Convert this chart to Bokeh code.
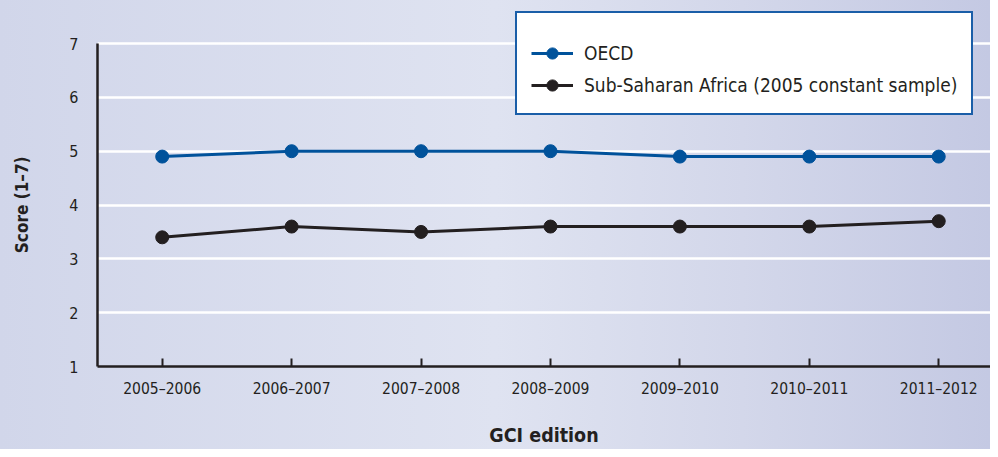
from bokeh.plotting import figure
from bokeh.models import Range1d, FixedTicker, Legend, LegendItem
from bokeh.embed import file_html
from bokeh.resources import INLINE

editions = ["2005–2006", "2006–2007", "2007–2008", "2008–2009", "2009–2010", "2010–2011", "2011–2012"]
oecd = [4.9, 5.0, 5.0, 5.0, 4.9, 4.9, 4.9]
ssa = [3.4, 3.6, 3.5, 3.6, 3.6, 3.6, 3.7]
y_ticks = [1, 2, 3, 4, 5, 6, 7]

FONT = "Liberation Sans Narrow, DejaVu Sans Condensed, Arial Narrow, sans-serif"
BLUE = "#00529b"
DARK = "#231f20"
NBSP = "\u00a0"

xs = list(range(len(editions)))

p = figure(width=990, height=449, x_range=Range1d(-0.5, 6.4), y_range=Range1d(1, 7.8),
           output_backend="svg", toolbar_location=None,
           min_border_left=97, min_border_top=0, min_border_right=0, min_border_bottom=83)
p.background_fill_color = None
p.border_fill_color = None
p.outline_line_color = None
p.styles = {"background": "linear-gradient(90deg, #d1d6ea 0%, #dfe3f1 50%, #d3d7ea 75%, #c4c9e3 100%)"}

# axes
p.xaxis.ticker = FixedTicker(ticks=xs)
p.xaxis.major_label_overrides = {i: e for i, e in zip(xs, editions)}
p.xaxis.major_tick_in = 8
p.xaxis.major_tick_out = 0
p.xaxis.minor_tick_line_color = None
p.xaxis.major_tick_line_color = DARK
p.xaxis.major_tick_line_width = 2
p.xaxis.axis_line_color = DARK
p.xaxis.axis_line_width = 2.5
p.xaxis.major_label_standoff = 13
p.xaxis.major_label_text_font = FONT
p.xaxis.major_label_text_font_size = "15.5px"
p.xaxis.major_label_text_color = DARK
p.xaxis.axis_label = "GCI edition"
p.xaxis.axis_label_text_font = FONT
p.xaxis.axis_label_text_font_size = "19.5px"
p.xaxis.axis_label_text_font_style = "bold"
p.xaxis.axis_label_text_color = DARK
p.xaxis.axis_label_standoff = 23

p.yaxis.bounds = (1, 7)
p.yaxis.ticker = FixedTicker(ticks=y_ticks)
p.yaxis.major_tick_line_color = None
p.yaxis.minor_tick_line_color = None
p.yaxis.axis_line_color = DARK
p.yaxis.axis_line_width = 2.5
p.yaxis.major_label_standoff = 13
p.yaxis.major_label_text_font = FONT
p.yaxis.major_label_text_font_size = "16px"
p.yaxis.major_label_text_color = DARK
# trailing no-break spaces keep the visible title centred on the 1–7 scale
p.yaxis.axis_label = "Score (1–7)" + NBSP * 8
p.yaxis.axis_label_text_font = FONT
p.yaxis.axis_label_text_font_size = "17px"
p.yaxis.axis_label_text_font_style = "bold"
p.yaxis.axis_label_text_color = DARK
p.yaxis.axis_label_standoff = 34

p.xgrid.grid_line_color = None
p.ygrid.ticker = FixedTicker(ticks=y_ticks)
p.ygrid.grid_line_color = "white"
p.ygrid.grid_line_width = 2.5

# series
l1 = p.line(xs, oecd, line_color=BLUE, line_width=3)
s1 = p.scatter(xs, oecd, size=13, fill_color=BLUE, line_color=BLUE)
l2 = p.line(xs, ssa, line_color=DARK, line_width=3)
s2 = p.scatter(xs, ssa, size=13, fill_color=DARK, line_color=DARK)

legend = Legend(items=[LegendItem(label="OECD", renderers=[l1, s1]),
                       LegendItem(label="Sub-Saharan Africa (2005 constant sample)", renderers=[l2, s2])],
                location=(418, 251))
legend.title = " "
legend.title_text_font_size = "10.5px"
legend.title_standoff = 0
legend.label_text_font = FONT
legend.label_text_font_size = "19px"
legend.label_text_color = DARK
legend.glyph_width = 42
legend.glyph_height = 28
legend.label_standoff = 11
legend.padding = 14
legend.spacing = 4
legend.border_line_color = "#1a5ea8"
legend.border_line_width = 2
legend.border_line_alpha = 1
legend.background_fill_color = "white"
legend.background_fill_alpha = 1
p.add_layout(legend)

open("out.html", "w").write(file_html(p, INLINE))
